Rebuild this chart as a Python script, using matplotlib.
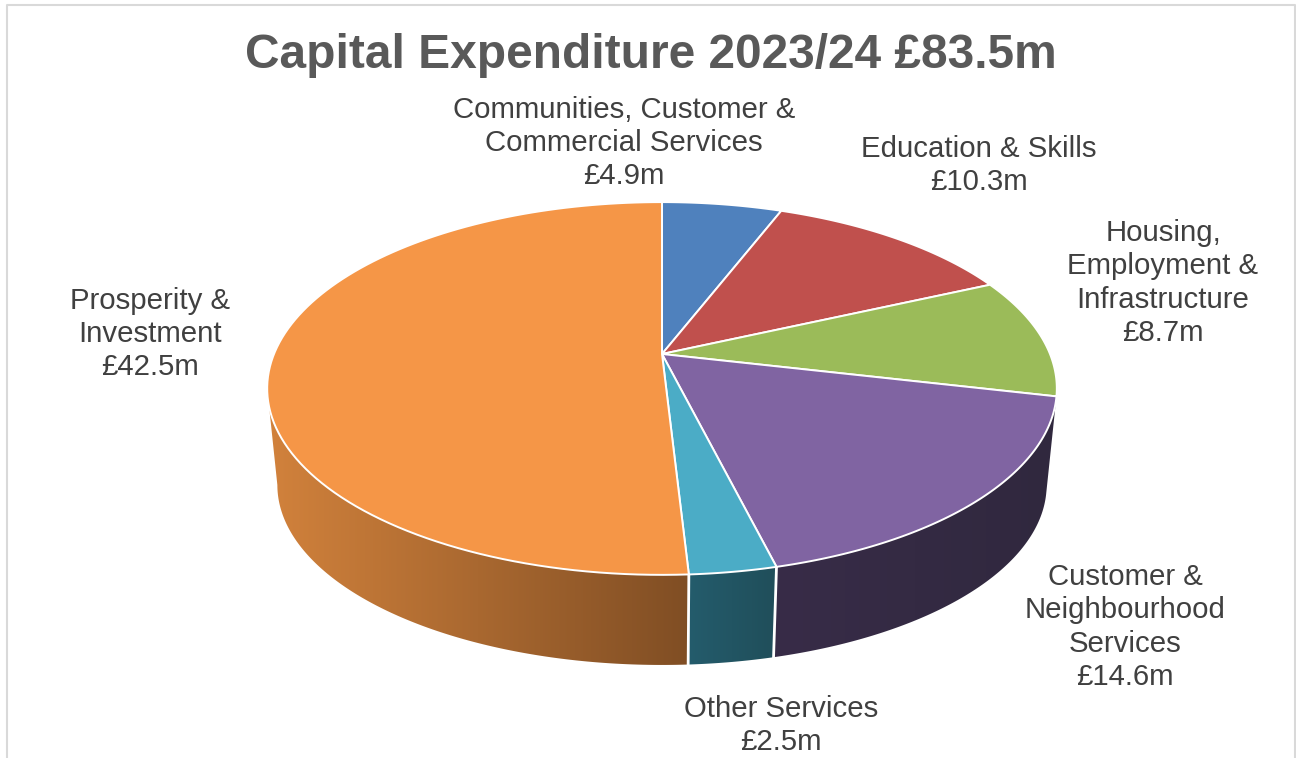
import numpy as np
import matplotlib
matplotlib.use('Agg')
import matplotlib.pyplot as plt
from matplotlib.patches import Polygon

plt.rcParams['font.family'] = ['Liberation Sans', 'DejaVu Sans']

TITLE = 'Capital Expenditure 2023/24 £83.5m'
names = ['Communities, Customer &\nCommercial Services', 'Education & Skills',
         'Housing,\nEmployment &\nInfrastructure', 'Customer &\nNeighbourhood\nServices',
         'Other Services', 'Prosperity &\nInvestment']
values = [4.9, 10.3, 8.7, 14.6, 2.5, 42.5]
top_colors = ['#4F81BD', '#C0504D', '#9BBB59', '#8064A2', '#4BACC6', '#F59647']
# side wall gradient, left colour then right colour
side_colors = [None, None, None,
               ((56, 44, 72), (48, 40, 62)),
               ((36, 92, 108), (32, 78, 90)),
               ((210, 130, 60), (128, 78, 36))]
label_pos = [(624, 143), (979, 165.5), (1163, 283), (1125, 627), (781, 725.5), (150, 334)]

# perspective of the pie, in pixels
CX = 662
TOP_Y, TOP_A, TOP_K = 354, 388, 180
BOT_Y, BOT_A, BOT_K = 451.7, 378, 173.8
P = 0.185


def project(theta, y0, a, k):
    # theta clockwise from 12 o'clock
    u, v = np.sin(theta), -np.cos(theta)
    d = 1 - P * v
    return CX + a * u / d, y0 + k * v / d


def arc(t0, t1, level='top', n=120):
    t = np.linspace(t0, t1, n)
    if level == 'top':
        x, y = project(t, TOP_Y, TOP_A, TOP_K)
    else:
        x, y = project(t, BOT_Y, BOT_A, BOT_K)
    return np.column_stack([x, y])


fig = plt.figure(figsize=(12.96, 7.58), dpi=100)
ax = fig.add_axes([0, 0, 1, 1])
ax.set_xlim(0, 1296)
ax.set_ylim(758, 0)
ax.axis('off')

# chart frame (bottom edge is cropped off)
ax.plot([7, 7, 1294.5, 1294.5], [758, 5, 5, 758], color='#D9D9D9', lw=1.5, zorder=1)

angles = np.concatenate([[0], np.cumsum(values)]) / np.sum(values) * 2 * np.pi
limit0, limit1 = np.arccos(-P), 2 * np.pi - np.arccos(-P)  # where the rim leaves the view

# side walls
for i, sc in enumerate(side_colors):
    if sc is None:
        continue
    t0, t1 = max(angles[i], limit0), min(angles[i + 1], limit1)
    pts = np.vstack([arc(t0, t1, 'top'), arc(t0, t1, 'bot')[::-1]])
    poly = Polygon(pts, closed=True, fc='none', ec='none', zorder=2)
    ax.add_patch(poly)
    x0, x1 = pts[:, 0].min(), pts[:, 0].max()
    c_l, c_r = np.array(sc[0]), np.array(sc[1])
    f = np.linspace(0, 1, 256)[None, :, None]
    grad = (c_l + (c_r - c_l) * f) / 255
    im = ax.imshow(grad, extent=[x0, x1, pts[:, 1].max(), pts[:, 1].min()],
                   aspect='auto', zorder=2, interpolation='bilinear')
    im.set_clip_path(poly)
    ax.set_xlim(0, 1296)
    ax.set_ylim(758, 0)

# white seams between the walls
for a in angles[4:6]:
    ax.plot(*np.vstack([arc(a, a, 'top', 1), arc(a, a, 'bot', 1)]).T, color='white', lw=2, zorder=3)

# top faces
for i, c in enumerate(top_colors):
    pts = np.vstack([[[CX, TOP_Y]], arc(angles[i], angles[i + 1])])
    ax.add_patch(Polygon(pts, closed=True, fc=c, ec='white', lw=1.4, joinstyle='round', zorder=4))

ax.text(650.5, 55.5, TITLE, fontsize=34.5, fontweight='bold', color='#595959', ha='center', va='center', zorder=5)
for name, val, (lx, ly) in zip(names, values, label_pos):
    ax.text(lx, ly, f'{name}\n£{val}m', fontsize=21.2, color='#404040', ha='center', va='center',
            linespacing=1.23, zorder=5)

fig.savefig('out.png', dpi=100)
